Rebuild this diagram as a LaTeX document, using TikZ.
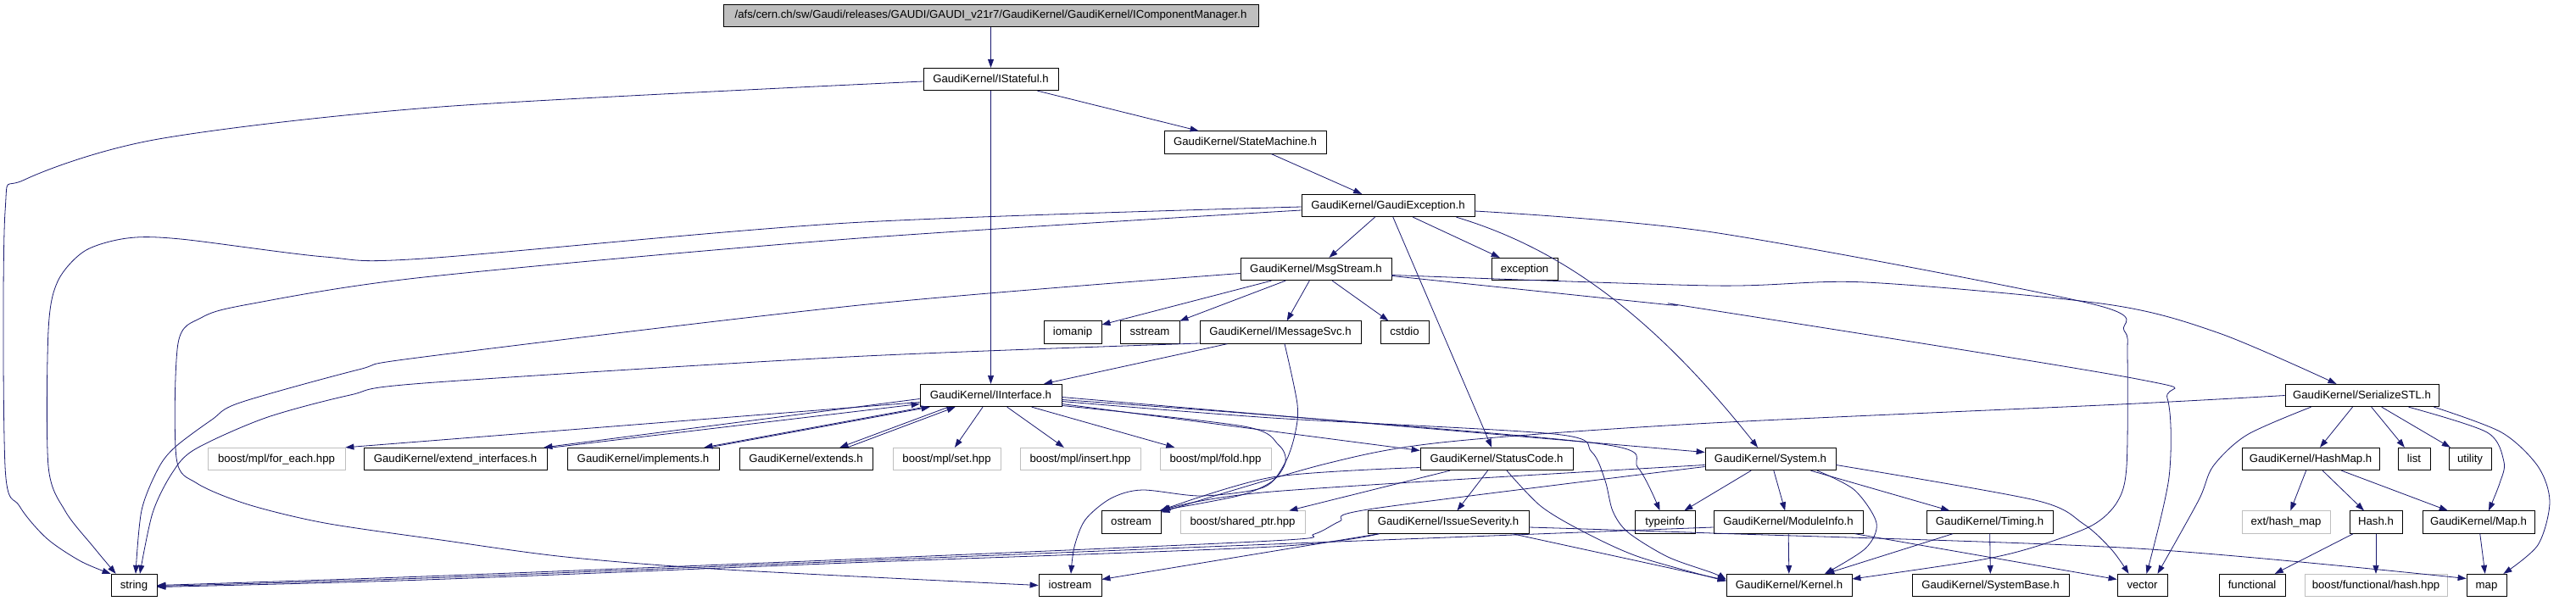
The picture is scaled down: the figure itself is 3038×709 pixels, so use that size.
\documentclass[tikz,border=0pt]{standalone}
\usepackage{fontspec}
\setmainfont{Liberation Sans}
\usetikzlibrary{arrows.meta}
\definecolor{edgec}{RGB}{25,25,112}
\definecolor{grayb}{RGB}{191,191,191}
\begin{document}
\begin{tikzpicture}[x=1pt,y=-1pt,
 nd/.style={draw=black, line width=0.8pt, fill=white, minimum height=26.5pt, inner sep=0pt,
   font=\fontsize{13.2}{15}\selectfont, text height=9.5pt, text depth=2.5pt},
 gnd/.style={nd, draw=grayb},
 edge/.style={draw=edgec, line width=0.8pt, -{Triangle[length=10pt,width=7pt]}},
 sm/.style={smooth, tension=0.5}]
\useasboundingbox[fill=white] (0,0) rectangle (3038,709);
% row 0
\node[nd, fill=grayb, minimum width=631pt] (top) at (1168.5,18.5) {/afs/cern.ch/sw/Gaudi/releases/GAUDI/GAUDI\_v21r7/GaudiKernel/GaudiKernel/IComponentManager.h};
% row 1-4
\node[nd, minimum width=159pt] (istateful) at (1168.5,93.5) {GaudiKernel/IStateful.h};
\node[nd, minimum width=191pt] (statemachine) at (1468.5,168) {GaudiKernel/StateMachine.h};
\node[nd, minimum width=204pt] (gaudiexc) at (1637,242.5) {GaudiKernel/GaudiException.h};
\node[nd, minimum width=178pt] (msgstream) at (1552,317.5) {GaudiKernel/MsgStream.h};
\node[nd, minimum width=78pt] (exception) at (1798,317.5) {exception};
% row 5
\node[nd, minimum width=68pt] (iomanip) at (1265,392) {iomanip};
\node[nd, minimum width=70pt] (sstream) at (1356,392) {sstream};
\node[nd, minimum width=190pt] (imsgsvc) at (1510,392) {GaudiKernel/IMessageSvc.h};
\node[nd, minimum width=57pt] (cstdio) at (1656.5,392) {cstdio};
% row 6
\node[nd, minimum width=167pt] (iinterface) at (1168.5,466.5) {GaudiKernel/IInterface.h};
\node[nd, minimum width=181pt] (serialize) at (2785.5,466.5) {GaudiKernel/SerializeSTL.h};
% row 7
\node[gnd, minimum width=162pt] (foreach) at (326,541.5) {boost/mpl/for\_each.hpp};
\node[nd, minimum width=216pt] (extif) at (537,541.5) {GaudiKernel/extend\_interfaces.h};
\node[nd, minimum width=179pt] (implements) at (758.5,541.5) {GaudiKernel/implements.h};
\node[nd, minimum width=157pt] (extends) at (950.5,541.5) {GaudiKernel/extends.h};
\node[gnd, minimum width=127pt] (mplset) at (1116.5,541.5) {boost/mpl/set.hpp};
\node[gnd, minimum width=142pt] (mplinsert) at (1274,541.5) {boost/mpl/insert.hpp};
\node[gnd, minimum width=131pt] (mplfold) at (1433.5,541.5) {boost/mpl/fold.hpp};
\node[nd, minimum width=180pt] (statuscode) at (1765,541.5) {GaudiKernel/StatusCode.h};
\node[nd, minimum width=154pt] (system) at (2088,541.5) {GaudiKernel/System.h};
\node[nd, minimum width=162pt] (hashmap) at (2725,541.5) {GaudiKernel/HashMap.h};
\node[nd, minimum width=38pt] (list) at (2847,541.5) {list};
\node[nd, minimum width=50pt] (utility) at (2913,541.5) {utility};
% row 8
\node[nd, minimum width=70pt] (ostream) at (1334,616) {ostream};
\node[gnd, minimum width=147pt] (sharedptr) at (1465.5,616) {boost/shared\_ptr.hpp};
\node[nd, minimum width=190pt] (issue) at (1708,616) {GaudiKernel/IssueSeverity.h};
\node[nd, minimum width=71pt] (typeinfo) at (1963.5,616) {typeinfo};
\node[nd, minimum width=176pt] (moduleinfo) at (2109,616) {GaudiKernel/ModuleInfo.h};
\node[nd, minimum width=149pt] (timing) at (2346.5,616) {GaudiKernel/Timing.h};
\node[gnd, minimum width=104pt] (exthash) at (2696,616) {ext/hash\_map};
\node[nd, minimum width=62pt] (hash) at (2802,616) {Hash.h};
\node[nd, minimum width=132pt] (mapH) at (2923,616) {GaudiKernel/Map.h};
% row 9
\node[nd, minimum width=54pt] (string) at (158,690.5) {string};
\node[nd, minimum width=74pt] (iostream) at (1262,690.5) {iostream};
\node[nd, minimum width=148pt] (kernel) at (2110,690.5) {GaudiKernel/Kernel.h};
\node[nd, minimum width=185pt] (systembase) at (2347.5,690.5) {GaudiKernel/SystemBase.h};
\node[nd, minimum width=59pt] (vector) at (2526.5,690.5) {vector};
\node[nd, minimum width=78pt] (functional) at (2656,690.5) {functional};
\node[gnd, minimum width=168pt] (bfhash) at (2802,690.5) {boost/functional/hash.hpp};
\node[nd, minimum width=47pt] (map) at (2932.5,690.5) {map};

% ---- edges
\draw[edge] (top) -- (istateful);
\draw[edge] (istateful) -- (iinterface);
\draw[edge] (istateful) -- (statemachine);
\draw[edge] plot[sm] coordinates {([shift={(0,2.5)}]istateful.west) (520,126) (187,164) (29,212) (6,250) (6,550) (23,597) (55,635) (95,662) ([shift={(0,0)}]string.north west)};
\draw[edge] (statemachine) -- (gaudiexc);
\draw[edge] (gaudiexc) -- (msgstream);
\draw[edge] (gaudiexc) -- (exception);
\draw[edge] (gaudiexc) -- (statuscode);
\draw[edge] ([shift={(-22,0)}]gaudiexc.south east) .. controls (1830,290) and (1940,360) .. ([shift={(-15,0)}]system.north);
\draw[edge] plot[sm] coordinates {([shift={(0,1.5)}]gaudiexc.west) (1000,263) (500,305) (383,303) (213,282) (150,281) (100,296) (68,332) (57,390) (57,550) (77,603) (110,645) ([shift={(6,0)}]string.north west)};
\draw[edge] plot[sm] coordinates {([shift={(0,5.5)}]gaudiexc.west) (1000,282) (500,327) (293,359) (237,375) (210,405) (208,540) (232,570) (292,595) (383,617) (520,637) (667,657) (857,672) (iostream.west)};
\draw[edge] plot[sm] coordinates {([shift={(0,6.5)}]gaudiexc.east) (2020,274) (2465,358) (2505,390) (2509,420) (2508,550) (2497,592) (2467,620) (2400,645) (2333,661) ([shift={(0,-7.5)}]kernel.east)};
% MsgStream
\draw[edge] (msgstream) -- (iomanip);
\draw[edge] (msgstream) -- (sstream);
\draw[edge] (msgstream) -- (imsgsvc);
\draw[edge] (msgstream) -- (cstdio);
\draw[edge] plot[sm] coordinates {([shift={(0,5)}]msgstream.west) (1023,359) (500,421) (423,436) (283,475) (250,495) (207,527) (187,552) (167,602) ([shift={(2,0)}]string.north)};
\draw[edge] plot[sm] coordinates {([shift={(0,8)}]msgstream.east) (1962,359) (2000,363) (2520,447) (2556,470) (2558,563) ([shift={(5,0)}]vector.north)};
\draw[edge] plot[sm] coordinates {([shift={(0,7)}]msgstream.east) (2020,337) (2200,333) (2485,359) (2617,393) ([shift={(-30,0)}]serialize.north)};
% IMessageSvc
\draw[edge] (imsgsvc) -- (iinterface);
\draw[edge] plot[sm] coordinates {([shift={(0,13)}]imsgsvc.west) (1000,421) (500,452) (413,466) (313,493) (230,530) (203,558) (180,605) ([shift={(7,0)}]string.north)};
\draw[edge] plot[sm] coordinates {([shift={(5,0)}]imsgsvc.south) (1530,477) (1527,513) (1515,547) (1490,575) (1417,585) (1347,578) (1310,588) (1280,613) (1267,645) ([shift={(1,0)}]iostream.north)};
% IInterface left side
\draw[edge] ([shift={(0,8)}]iinterface.west) -- (foreach.north east);
\draw[edge] ([shift={(0,4)}]iinterface.west) -- ([shift={(-4,0)}]extif.north east);
\draw[edge] ([shift={(-2,1)}]extif.north east) -- ([shift={(0,10)}]iinterface.west);
\draw[edge] ([shift={(6,0)}]iinterface.south west) -- ([shift={(-18,0)}]implements.north east);
\draw[edge] ([shift={(-12,0)}]implements.north east) -- ([shift={(12,0)}]iinterface.south west);
\draw[edge] ([shift={(34,0)}]iinterface.south west) -- ([shift={(-39,0)}]extends.north east);
\draw[edge] ([shift={(-30,0)}]extends.north east) -- ([shift={(42,0)}]iinterface.south west);
\draw[edge] (iinterface) -- (mplset);
\draw[edge] (iinterface) -- (mplinsert);
\draw[edge] (iinterface) -- (mplfold);
% IInterface right side
\draw[edge] ([shift={(0,10)}]iinterface.east) -- ([shift={(0,-10)}]statuscode.west);
\draw[edge] ([shift={(0,2)}]iinterface.east) -- ([shift={(0,-8)}]system.west);
\draw[edge] plot[sm] coordinates {([shift={(0,5)}]iinterface.east) (1500,490) (1890,524) (1932,552) ([shift={(-6,0)}]typeinfo.north)};
\draw[edge] plot[sm] coordinates {([shift={(0,7)}]iinterface.east) (1500,493) (1833,512) (1877,533) (1893,567) (1902,603) (1920,628) (1967,657) (2020,676) ([shift={(0,-7)}]kernel.west)};
\draw[edge] plot[sm] coordinates {([shift={(0,12)}]iinterface.east) (1467,503) (1508,525) (1516,545) (1500,568) (1460,585) ([shift={(-2,0)}]ostream.north east)};
% StatusCode
\draw[edge] plot[sm] coordinates {([shift={(0,10)}]statuscode.west) (1500,563) ([shift={(-1,0)}]ostream.north east)};
\draw[edge] (statuscode) -- (sharedptr);
\draw[edge] (statuscode) -- (issue);
\draw[edge] plot[sm] coordinates {([shift={(12,0)}]statuscode.south) (1817,597) (1867,627) (1933,657) ([shift={(0,-5)}]kernel.west)};
% System
\draw[edge] plot[sm] coordinates {([shift={(0,7)}]system.west) (1500,580) ([shift={(1,0)}]ostream.north east)};
\draw[edge] plot[sm] coordinates {([shift={(0,9)}]system.west) (1620,600) (1580,615) (1550,630) (1500,638) (1000,660) (500,680) (string.east)};
\draw[edge] (system) -- (typeinfo);
\draw[edge] (system) -- (moduleinfo);
\draw[edge] (system) -- (timing);
\draw[edge] plot[sm] coordinates {([shift={(55,0)}]system.south) (2187,578) (2213,617) (2200,647) ([shift={(42,0)}]kernel.north)};
\draw[edge] plot[sm] coordinates {([shift={(0,7)}]system.east) (2400,590) (2457,618) (2490,648) ([shift={(-16,0)}]vector.north)};
% ModuleInfo
\draw[edge] (moduleinfo) -- (kernel);
\draw[edge] ([shift={(-10,0)}]moduleinfo.south east) -- ([shift={(0,-7)}]vector.west);
\draw[edge] plot[sm] coordinates {([shift={(0,6)}]moduleinfo.west) (1500,642) (1000,662) (500,682) ([shift={(0,1)}]string.east)};
% IssueSeverity
\draw[edge] plot[sm] coordinates {([shift={(14,0)}]issue.south west) (1500,645) (1000,664) (500,684) ([shift={(0,2)}]string.east)};
\draw[edge] ([shift={(14,0)}]issue.south west) -- ([shift={(0,-7)}]iostream.east);
\draw[edge] ([shift={(-20,0)}]issue.south east) -- ([shift={(0,-6)}]kernel.west);
\draw[edge] plot[sm] coordinates {([shift={(0,6)}]issue.east) (2020,629) (2520,647) ([shift={(0,-8)}]map.west)};
% Timing
\draw[edge] (timing) -- (kernel);
\draw[edge] (timing) -- (systembase);
% SerializeSTL
\draw[edge] plot[sm] coordinates {(serialize.west) (2500,477) (2000,500) (1700,522) (1560,548) ([shift={(0,2)}]ostream.north east)};
\draw[edge] plot[sm] coordinates {([shift={(-60,0)}]serialize.south) (2650,513) (2610,550) (2593,590) ([shift={(18,0)}]vector.north)};
\draw[edge] (serialize) -- (hashmap);
\draw[edge] (serialize) -- (list);
\draw[edge] (serialize) -- (utility);
\draw[edge] plot[sm] coordinates {([shift={(55,0)}]serialize.south) (2933,510) (2953,545) (2948,570) ([shift={(12,0)}]mapH.north)};
\draw[edge] plot[sm] coordinates {([shift={(-6,0)}]serialize.south east) (2950,510) (2993,550) (3007,592) (2993,643) ([shift={(-4,0)}]map.north east)};
% HashMap, Hash, Map
\draw[edge] (hashmap) -- (exthash);
\draw[edge] (hashmap) -- (hash);
\draw[edge] (hashmap) -- (mapH);
\draw[edge] (hash) -- (functional);
\draw[edge] (hash) -- (bfhash);
\draw[edge] (mapH) -- (map);
\end{tikzpicture}
\end{document}
